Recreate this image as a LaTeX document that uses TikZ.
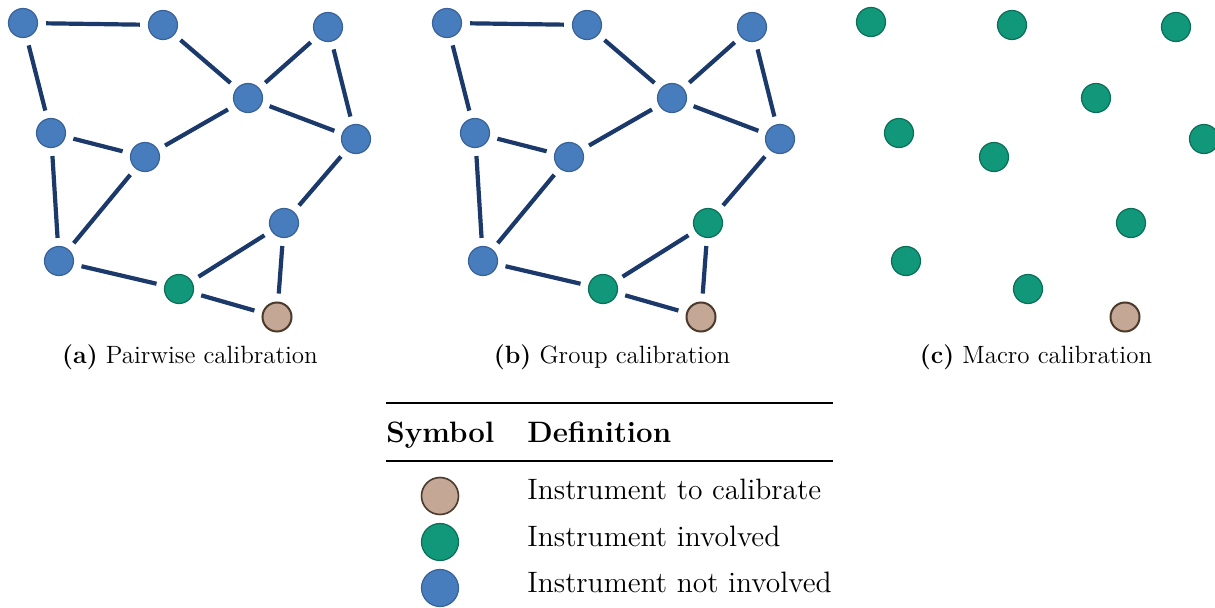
\documentclass[tikz,border=0pt]{standalone}
\definecolor{edgec}{RGB}{27,58,107}
\definecolor{bluef}{RGB}{72,125,189}
\definecolor{blued}{RGB}{56,98,152}
\definecolor{greenf}{RGB}{17,152,122}
\definecolor{greend}{RGB}{11,110,86}
\definecolor{tanf}{RGB}{196,168,149}
\definecolor{tand}{RGB}{75,58,44}
\tikzset{
  inst/.style={circle, minimum size=14.5pt, inner sep=0pt, line width=0.6pt},
  bnode/.style={inst, fill=bluef, draw=blued},
  gnode/.style={inst, fill=greenf, draw=greend},
  tnode/.style={inst, fill=tanf, draw=tand, line width=1pt},
  link/.style={draw=edgec, line width=2.1pt, shorten <=4pt, shorten >=4pt},
  capt/.style={anchor=base, font=\fontsize{12.5pt}{15pt}\selectfont, inner sep=0pt},
  tabt/.style={anchor=base west, font=\fontsize{14.75pt}{17pt}\selectfont, inner sep=0pt},
  legsym/.style={circle, minimum size=18.5pt, inner sep=0pt, line width=0.6pt}
}
\begin{document}
\begin{tikzpicture}[x=0.5pt, y=-0.5pt]
\useasboundingbox (0,0) rectangle (1215,608);
% ---------- panel (a)
\begin{scope}[shift={(0,0)}]
\node[bnode] (a1) at (23,23) {};
\node[bnode] (a2) at (163,25) {};
\node[bnode] (a3) at (328,27) {};
\node[bnode] (a4) at (248,98) {};
\node[bnode] (a5) at (51,133) {};
\node[bnode] (a6) at (145,157) {};
\node[bnode] (a7) at (356,139) {};
\node[bnode] (a8) at (284,223) {};
\node[bnode] (a9) at (59,261) {};
\node[gnode] (a10) at (179,289) {};
\node[tnode] (a11) at (277,317) {};
\end{scope}
\foreach \u/\v in {a1/a2,a1/a5,a2/a4,a4/a3,a3/a7,a4/a7,a4/a6,a5/a6,a5/a9,a6/a9,a9/a10,a10/a8,a8/a7,a8/a11,a10/a11}
  \draw[link] (\u) -- (\v);
\node[capt] (capa) at (190,364) {\textbf{(a)} Pairwise calibration};
% ---------- panel (b)
\begin{scope}[shift={(424,0)}]
\node[bnode] (b1) at (23,23) {};
\node[bnode] (b2) at (163,25) {};
\node[bnode] (b3) at (328,27) {};
\node[bnode] (b4) at (248,98) {};
\node[bnode] (b5) at (51,133) {};
\node[bnode] (b6) at (145,157) {};
\node[bnode] (b7) at (356,139) {};
\node[gnode] (b8) at (284,223) {};
\node[bnode] (b9) at (59,261) {};
\node[gnode] (b10) at (179,289) {};
\node[tnode] (b11) at (277,317) {};
\end{scope}
\foreach \u/\v in {b1/b2,b1/b5,b2/b4,b4/b3,b3/b7,b4/b7,b4/b6,b5/b6,b5/b9,b6/b9,b9/b10,b10/b8,b8/b7,b8/b11,b10/b11}
  \draw[link] (\u) -- (\v);
\node[capt] (capb) at (612,364) {\textbf{(b)} Group calibration};
% ---------- panel (c)
\begin{scope}[shift={(848,0)}]
\node[gnode] (c1) at (23,22) {};
\node[gnode] (c2) at (164,25) {};
\node[gnode] (c3) at (328,27) {};
\node[gnode] (c4) at (248,98) {};
\node[gnode] (c5) at (51,133) {};
\node[gnode] (c6) at (146,157) {};
\node[gnode] (c7) at (356,139) {};
\node[gnode] (c8) at (283,223) {};
\node[gnode] (c9) at (58,261) {};
\node[gnode] (c10) at (180,289) {};
\node[tnode] (c11) at (277,317) {};
\end{scope}
\node[capt] (capc) at (1036,364) {\textbf{(c)} Macro calibration};
% ---------- legend table
\coordinate (tl) at (386,403);
\coordinate (tr) at (833,403);
\coordinate (ml) at (386,461);
\coordinate (mr) at (833,461);
\draw[line width=1.1pt] (tl) -- (tr);
\draw[line width=0.6pt] (ml) -- (mr);
\node[tabt] (hsym) at (386,443) {\bfseries Symbol};
\node[tabt] (hdef) at (527,443) {\bfseries Definition};
\node[legsym, fill=tanf, draw=tand, line width=0.8pt] (ls1) at (440,496) {};
\node[legsym, fill=greenf, draw=greend] (ls2) at (440,542) {};
\node[legsym, fill=bluef, draw=blued] (ls3) at (440,588) {};
\node[tabt] (ld1) at (527,500) {Instrument to calibrate};
\node[tabt] (ld2) at (527,546) {Instrument involved};
\node[tabt] (ld3) at (527,592) {Instrument not involved};
\end{tikzpicture}
\end{document}
